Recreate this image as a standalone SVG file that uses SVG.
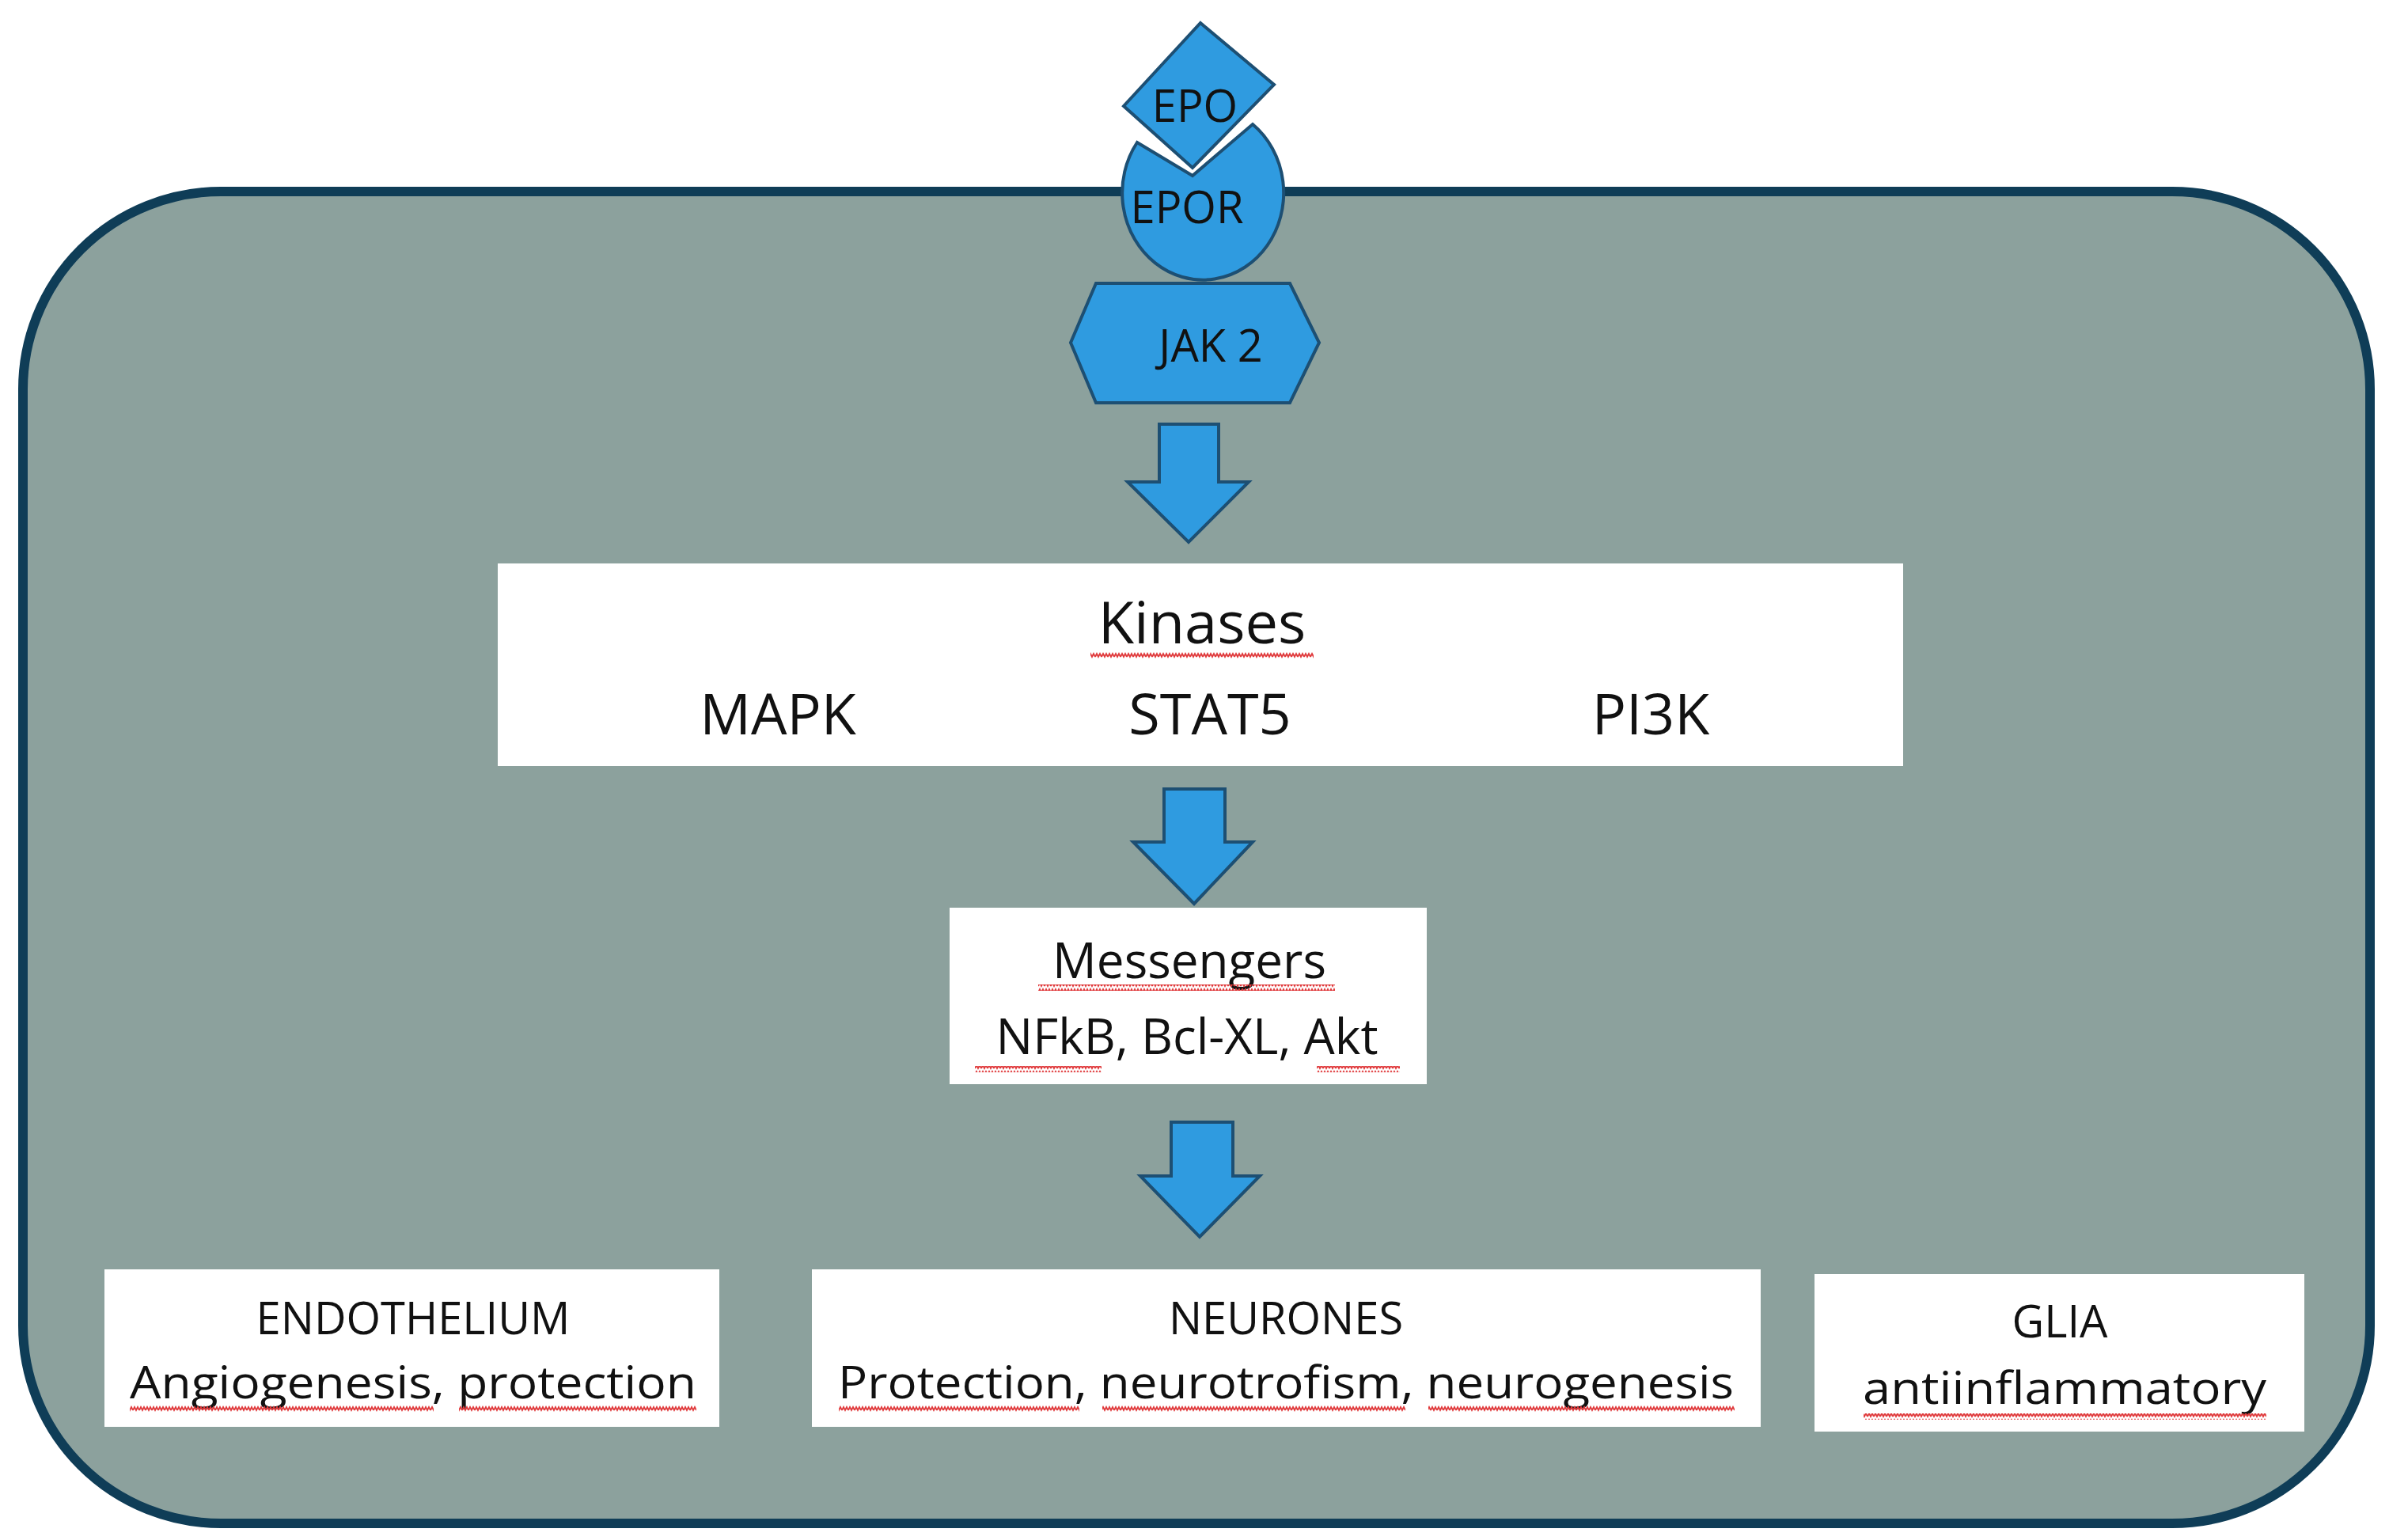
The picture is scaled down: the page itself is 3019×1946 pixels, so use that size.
<svg xmlns="http://www.w3.org/2000/svg" width="3019" height="1946" viewBox="0 0 3019 1946">
<style>
.blue{fill:#2f9be0;stroke:#1d4f73;stroke-width:4}
.box{fill:#ffffff}
text{font-family:"Open Sans","Noto Sans",sans-serif;fill:#111;text-anchor:middle;dominant-baseline:central}
.sq{fill:url(#zz)}
</style>
<defs>
<pattern id="zz" width="8" height="8" patternUnits="userSpaceOnUse">
<path d="M0,6 L2,2 L4,6 L6,2 L8,6" fill="none" stroke="#e0393b" stroke-width="1.8"/>
</pattern>
</defs>
<rect width="3019" height="1946" fill="#ffffff"/>
<g id="cell"><rect x="29" y="242" width="2966" height="1683" rx="250" fill="#8ca19d" stroke="#0f3d57" stroke-width="12"/></g>
<g id="epo"><path class="blue" d="M1517,29 L1610,107 L1507,212 L1420,134 Z"/><text x="1510" y="132" font-size="56">EPO</text></g>
<g id="epor"><path class="blue" d="M1437,180 L1507,222 L1583,157 A102,110 0 1 1 1437,180 Z"/><text x="1500" y="260" font-size="56">EPOR</text></g>
<g id="jak2"><path class="blue" d="M1385,358 L1630,358 L1667,433 L1630,509 L1385,509 L1353,433 Z"/><text x="1530" y="435" font-size="56">JAK 2</text></g>
<g id="connectors">
<path class="blue" d="M1465,536 L1540,536 L1540,609 L1578,609 L1502,685 L1425,609 L1465,609 Z"/>
<path class="blue" d="M1471,997 L1548,997 L1548,1064 L1583,1064 L1509,1142 L1432,1064 L1471,1064 Z"/>
<path class="blue" d="M1480,1418 L1558,1418 L1558,1486 L1592,1486 L1516,1563 L1441,1486 L1480,1486 Z"/>
</g>
<g id="kinases"><rect class="box" x="629" y="712" width="1776" height="256"/>
<text x="1519" y="784" font-size="74">Kinases</text>
<text x="983" y="900" font-size="72">MAPK</text><text x="1529" y="900" font-size="72">STAT5</text><text x="2086" y="900" font-size="72">PI3K</text>
<rect class="sq" x="1378" y="824" width="282" height="8"/></g>
<g id="messengers"><rect class="box" x="1200" y="1147" width="603" height="223"/>
<text x="1503" y="1212" font-size="62">Messengers</text>
<text x="1500" y="1308" font-size="62">NFkB, Bcl-XL, Akt</text>
<rect class="sq" x="1312" y="1244" width="375" height="8"/><rect class="sq" x="1232" y="1347" width="160" height="8"/><rect class="sq" x="1664" y="1347" width="105" height="8"/></g>
<g id="endothelium"><rect class="box" x="132" y="1604" width="777" height="199"/>
<text x="522" y="1664" font-size="56">ENDOTHELIUM</text><text x="522" y="1745" font-size="56" textLength="716" lengthAdjust="spacingAndGlyphs">Angiogenesis, protection</text>
<rect class="sq" x="164" y="1776" width="384" height="8"/><rect class="sq" x="580" y="1776" width="300" height="8"/></g>
<g id="neurones"><rect class="box" x="1026" y="1604" width="1199" height="199"/>
<text x="1625" y="1664" font-size="56">NEURONES</text><text x="1625" y="1745" font-size="56" textLength="1132" lengthAdjust="spacingAndGlyphs">Protection, neurotrofism, neurogenesis</text>
<rect class="sq" x="1060" y="1776" width="304" height="8"/><rect class="sq" x="1393" y="1776" width="383" height="8"/><rect class="sq" x="1805" y="1776" width="387" height="8"/></g>
<g id="glia"><rect class="box" x="2293" y="1610" width="619" height="199"/>
<text x="2603" y="1668" font-size="56">GLIA</text><text x="2609" y="1752" font-size="56" textLength="510" lengthAdjust="spacingAndGlyphs">antiinflammatory</text>
<rect class="sq" x="2355" y="1786" width="509" height="8"/></g>
</svg>
